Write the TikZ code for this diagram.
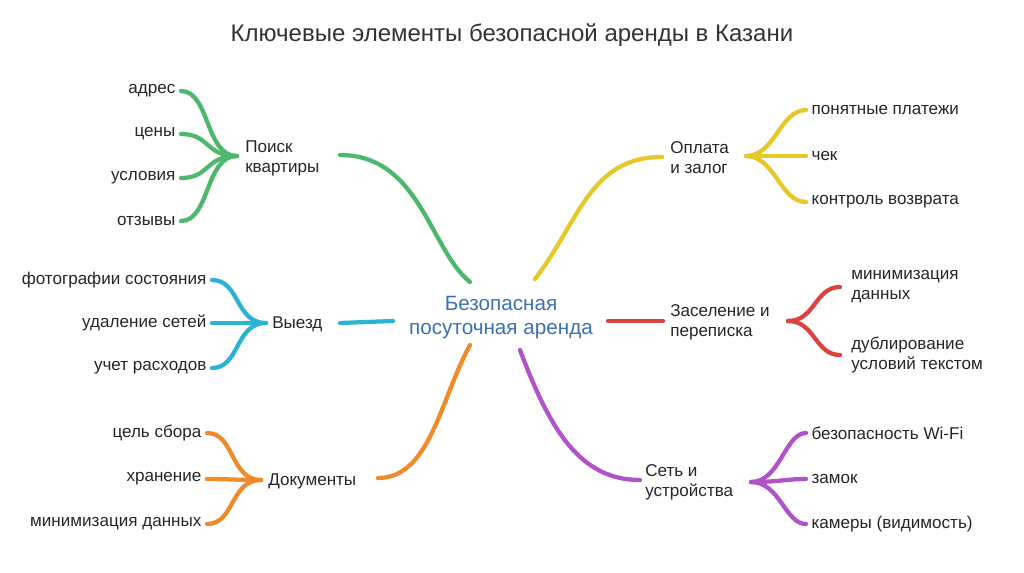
\documentclass[tikz,border=0pt]{standalone}
\usepackage{fontspec}
\setmainfont{Liberation Sans}
\begin{document}
\begin{tikzpicture}[x=0.75pt,y=-0.75pt,
  lab/.style={font=\fontsize{12.8}{15}\selectfont,text=black!85,inner sep=1.5pt},
  lf/.style={lab,inner xsep=4pt},
  br/.style={line width=3.2pt,line cap=round}]
\definecolor{cg}{HTML}{4DB86B}\definecolor{ct}{HTML}{2BB3D1}
\definecolor{co}{HTML}{F08A2A}\definecolor{cy}{HTML}{E6C82A}
\definecolor{cr}{HTML}{D9443F}\definecolor{cp}{HTML}{B052C8}
\definecolor{cb}{HTML}{3B70B5}
\useasboundingbox (0,0) rectangle (1024,572);
\node[font=\fontsize{18}{21}\selectfont,text=black!80] (title) at (512,35) {Ключевые элементы безопасной аренды в Казани};
\node[font=\fontsize{15.5}{18}\selectfont,text=cb,align=center] (c) at (501,318) {Безопасная\\посуточная аренда};
% main nodes
\node[lab,align=left,anchor=west] (p) at (243,158) {Поиск\\квартиры};
\node[lab,anchor=west] (v) at (270,324) {Выезд};
\node[lab,anchor=west] (d) at (266,481) {Документы};
\node[lab,align=left,anchor=west] (o) at (668,158) {Оплата\\и залог};
\node[lab,align=left,anchor=west] (z) at (668,322) {Заселение и\\переписка};
\node[lab,align=left,anchor=west] (s) at (643,482) {Сеть и\\устройства};
% trunk coords
\coordinate (pa) at (340,155);\coordinate (pb) at (470,282);
\coordinate (va) at (340,323);\coordinate (vb) at (393,321);
\coordinate (da) at (378,478);\coordinate (db) at (470,345);
\coordinate (oa) at (662,157);\coordinate (ob) at (535,279);
\coordinate (za) at (663,321);\coordinate (zb) at (608,321);
\coordinate (sa) at (640,480);\coordinate (sb) at (520,350);
\draw[br,cg] (pa) .. controls (420,155) and (430,250) .. (pb);
\draw[br,ct] (va) -- (vb);
\draw[br,co] (da) .. controls (430,478) and (440,400) .. (db);
\draw[br,cy] (oa) .. controls (590,157) and (580,220) .. (ob);
\draw[br,cr] (zb) -- (za);
\draw[br,cp] (sb) .. controls (550,430) and (580,480) .. (sa);
% hubs
\coordinate (ph) at (237,156);\coordinate (vh) at (266,323);\coordinate (dh) at (261,480);
\coordinate (oh) at (746,156);\coordinate (zh) at (788,321);\coordinate (sh) at (751,482);
% leaves
\foreach \n/\t/\y in {p1/адрес/91,p2/цены/134,p3/условия/178,p4/отзывы/221}{
  \node[lf,anchor=east] (\n) at (181,\y) {\t};
  \draw[br,cg] (ph) .. controls (205,156) and (210,\y) .. (\n.east);}
\foreach \n/\t/\y in {v1/фотографии состояния/280,v2/удаление сетей/323,v3/учет расходов/368}{
  \node[lf,anchor=east] (\n) at (212,\y) {\t};
  \draw[br,ct] (vh) .. controls (235,323) and (240,\y) .. (\n.east);}
\foreach \n/\t/\y in {d1/цель сбора/433,d2/хранение/479,d3/минимизация данных/524}{
  \node[lf,anchor=east] (\n) at (207,\y) {\t};
  \draw[br,co] (dh) .. controls (230,480) and (235,\y) .. (\n.east);}
\foreach \n/\t/\y in {o1/понятные платежи/110,o2/чек/156,o3/контроль возврата/202}{
  \node[lf,anchor=west] (\n) at (806,\y) {\t};
  \draw[br,cy] (oh) .. controls (775,156) and (780,\y) .. (\n.west);}
\node[lab,anchor=west,align=left] (z1) at (849,287) {минимизация\\данных};
\node[lab,anchor=west,align=left] (z2) at (849,355) {дублирование\\условий текстом};
\coordinate (z1e) at (840,287);\coordinate (z2e) at (840,355);
\draw[br,cr] (zh) .. controls (815,321) and (815,287) .. (z1e);
\draw[br,cr] (zh) .. controls (815,321) and (815,355) .. (z2e);
\foreach \n/\t/\y in {s1/безопасность Wi-Fi/433,s2/замок/479,s3/камеры (видимость)/524}{
  \node[lf,anchor=west] (\n) at (806,\y) {\t};
  \draw[br,cp] (sh) .. controls (780,482) and (785,\y) .. (\n.west);}
\end{tikzpicture}
\end{document}
